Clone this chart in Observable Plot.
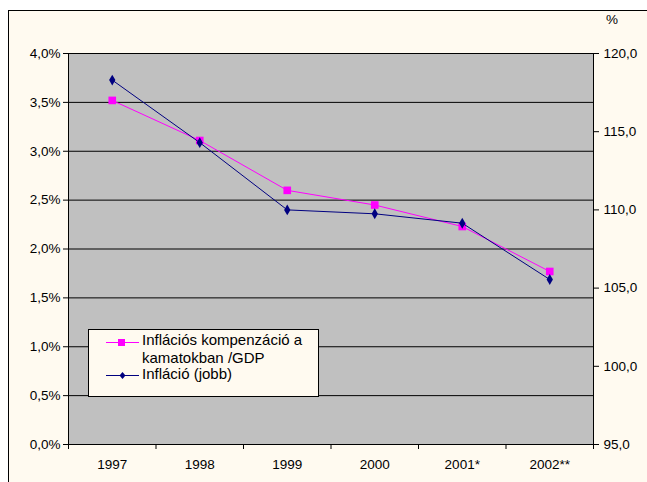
<!DOCTYPE html>
<html><head><meta charset="utf-8">
<script src="https://cdn.jsdelivr.net/npm/d3@7"></script>
<script src="https://cdn.jsdelivr.net/npm/@observablehq/plot@0.6"></script>
<style>
body{margin:0;background:#fff;font-family:"Liberation Sans",Arial,sans-serif;}
#wrap{position:relative;width:647px;height:482px;overflow:hidden;background:#fff;}
#frame{position:absolute;left:8px;top:10px;width:700px;height:520px;background:#FFFAF0;border:1px solid #000;box-sizing:border-box;}
#chart{position:absolute;left:0;top:0;}
#pct{position:absolute;left:606px;top:12px;font-size:13.5px;}
#legend{position:absolute;left:88px;top:329px;width:231px;height:68px;box-sizing:border-box;border:1px solid #000;background:#FFFAF0;font-size:15px;}
.txt{position:absolute;left:53px;white-space:nowrap;line-height:18px;}
</style></head>
<body>
<div id="wrap"><div id="frame"></div><div id="chart"></div><div id="pct">%</div>
<div id="legend">
 <svg width="50" height="60" style="position:absolute;left:0;top:0">
  <line x1="17" x2="50" y1="12.5" y2="12.5" stroke="#FF00FF"/>
  <rect x="29" y="9" width="7" height="7" fill="#FF00FF"/>
  <line x1="17" x2="50" y1="45.5" y2="45.5" stroke="#000080"/>
  <path d="M33.5,42 L36.5,45.5 L33.5,49 L30.5,45.5Z" fill="#000080"/>
 </svg>
 <div class="txt" style="top:1px">Inflációs kompenzáció a<br>kamatokban /GDP</div>
 <div class="txt" style="top:35px">Infláció (jobb)</div>
</div>
</div>
<script>
const years = ["1997","1998","1999","2000","2001*","2002**"];
const kompenzacio = [3.52, 3.11, 2.60, 2.45, 2.23, 1.77]; // % (left axis)
const inflacio = [118.3, 114.3, 110.0, 109.75, 109.15, 105.55]; // right axis
const leftTicks = [0, 0.5, 1, 1.5, 2, 2.5, 3, 3.5, 4];
const rightTicks = [95, 100, 105, 110, 115, 120];

const rMin = 95, rMax = 120, lMax = 4;
const toLeft = v => (v - rMin) / (rMax - rMin) * lMax;
const fromLeft = v => rMin + v / lMax * (rMax - rMin);

const dataK = years.map((y, i) => ({i: i + 0.5, v: kompenzacio[i]}));
const dataI = years.map((y, i) => ({i: i + 0.5, v: toLeft(inflacio[i])}));
const fmt1 = d => d.toFixed(1).replace(".", ",");

const chart = Plot.plot({
  width: 647, height: 482,
  marginTop: 53, marginBottom: 38, marginLeft: 68, marginRight: 54,
  style: {background: "transparent", fontFamily: "Liberation Sans, Arial, sans-serif", fontSize: "13.5px", color: "#000"},
  x: {domain: [0, years.length]},
  y: {domain: [0, lMax]},
  marks: [
    Plot.frame({fill: "#C0C0C0", stroke: "none"}),
    Plot.ruleY(leftTicks, {stroke: "#000", strokeWidth: 1}),
    Plot.ruleX([0, years.length], {stroke: "#000"}),
    Plot.axisY(leftTicks, {anchor: "left", tickSize: 5, tickPadding: 3, tickFormat: d => fmt1(d) + "%", label: null, fontSize: 13.5}),
    Plot.axisY(rightTicks.map(toLeft), {anchor: "right", tickSize: 5, tickPadding: 5, tickFormat: d => fmt1(fromLeft(d)), label: null, fontSize: 13.5}),
    Plot.axisX(d3.range(0, years.length + 1), {tickSize: 5, tickFormat: () => "", label: null}),
    Plot.axisX(years.map((y, i) => i + 0.5), {tickSize: 0, tickPadding: 15, tickFormat: d => years[Math.floor(d)], label: null, fontSize: 13.5}),
    Plot.line(dataK, {x: "i", y: "v", stroke: "#FF00FF", strokeWidth: 1}),
    Plot.dot(dataK, {x: "i", y: "v", symbol: "square", fill: "#FF00FF", r: 4.3}),
    Plot.line(dataI, {x: "i", y: "v", stroke: "#000080", strokeWidth: 1}),
    Plot.dot(dataI, {x: "i", y: "v", symbol: "diamond", fill: "#000080", r: 3.3})
  ]
});
document.getElementById("chart").appendChild(chart);
</script>
</body></html>
